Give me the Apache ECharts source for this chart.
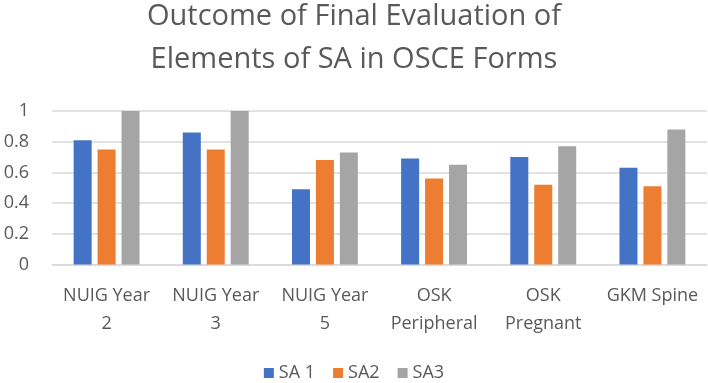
<!DOCTYPE html>
<html>
<head>
<meta charset="utf-8">
<script src="https://cdn.jsdelivr.net/npm/echarts@6/dist/echarts.min.js"></script>
<style>
  html, body { margin: 0; padding: 0; background: #fff; }
  #chart { width: 708px; height: 383px; }
</style>
</head>
<body>
<div id="chart"></div>
<script>
// categories and values
const categories = ['NUIG Year\n2', 'NUIG Year\n3', 'NUIG Year\n5', 'OSK\nPeripheral', 'OSK\nPregnant', 'GKM Spine']
const sa1 = [0.81, 0.86, 0.49, 0.69, 0.70, 0.63]
const sa2 = [0.75, 0.75, 0.68, 0.56, 0.52, 0.51]
const sa3 = [1.0, 1.0, 0.73, 0.65, 0.77, 0.88]
const yTicks = [0, 0.2, 0.4, 0.6, 0.8, 1]

const font = '"Open Sans", "Noto Sans", sans-serif'
const chart = echarts.init(document.getElementById('chart'))

const barSeries = (name, data, color) => ({
  name: name,
  type: 'bar',
  data: data,
  barWidth: 18,
  barGap: '33%',
  itemStyle: { color: color }
})

chart.setOption({
  animation: false,
  title: {
    text: 'Outcome of Final Evaluation of\nElements of SA in OSCE Forms',
    left: 'center',
    top: -10,
    textStyle: {
      fontFamily: font,
      fontSize: 29,
      fontWeight: 'normal',
      color: '#595959',
      lineHeight: 43
    }
  },
  legend: {
    top: 364,
    left: 'center',
    padding: 0,
    itemWidth: 10,
    itemHeight: 10,
    itemGap: 18,
    icon: 'rect',
    textStyle: { fontFamily: font, fontSize: 18, color: '#595959' },
    data: ['SA 1', 'SA2', 'SA3']
  },
  grid: { left: 52, right: 1, top: 111, bottom: 118.5 },
  xAxis: {
    type: 'category',
    data: categories,
    axisTick: { show: false },
    axisLine: { lineStyle: { color: '#d9d9d9', width: 1.5 } },
    axisLabel: {
      fontFamily: font,
      fontSize: 18,
      color: '#595959',
      lineHeight: 28,
      margin: 17,
      interval: 0
    }
  },
  yAxis: {
    type: 'value',
    min: yTicks[0],
    max: yTicks[yTicks.length - 1],
    interval: 0.2,
    axisLine: { show: false },
    axisTick: { show: false },
    splitLine: { lineStyle: { color: '#d9d9d9', width: 1.5 } },
    axisLabel: {
      fontFamily: font,
      fontSize: 18,
      color: '#595959',
      margin: 23,
      formatter: v => String(Math.round(v * 10) / 10)
    }
  },
  series: [
    barSeries('SA 1', sa1, '#4472C4'),
    barSeries('SA2', sa2, '#ED7D31'),
    barSeries('SA3', sa3, '#A5A5A5')
  ]
})
</script>
</body>
</html>
